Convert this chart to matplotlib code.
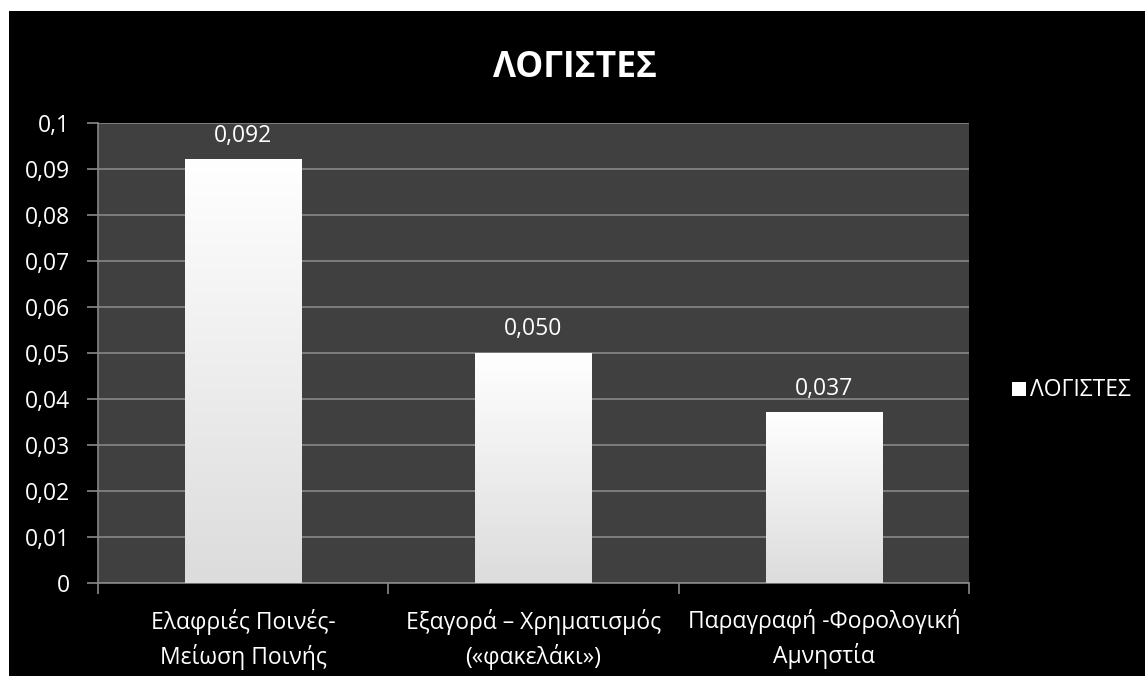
import matplotlib
matplotlib.use("Agg")
import matplotlib.pyplot as plt
import numpy as np
from matplotlib.patches import Rectangle
from matplotlib.colors import LinearSegmentedColormap

categories = ["Ελαφριές Ποινές-\nΜείωση Ποινής", "Εξαγορά – Χρηματισμός\n(«φακελάκι»)", "Παραγραφή -Φορολογική\nΑμνηστία"]
values = [0.092, 0.050, 0.037]
value_labels = ["0,092", "0,050", "0,037"]
yticks = [0, 0.01, 0.02, 0.03, 0.04, 0.05, 0.06, 0.07, 0.08, 0.09, 0.1]
ytick_labels = ["0", "0,01", "0,02", "0,03", "0,04", "0,05", "0,06", "0,07", "0,08", "0,09", "0,1"]
series_name = "ΛΟΓΙΣΤΕΣ"
title = "ΛΟΓΙΣΤΕΣ"

plt.rcParams['font.family'] = ['Open Sans', 'DejaVu Sans']
FS = 16.5

W, H = 1145, 676
fig = plt.figure(figsize=(W/100, H/100), dpi=100, facecolor="white")
fig.patches.append(Rectangle((9/W, 0), 1 - 9/W, 1 - 11/H, transform=fig.transFigure,
                             facecolor="black", edgecolor="none", zorder=-10))

left, right, top, bottom = 98, 969, 123, 583
ax = fig.add_axes([left/W, 1 - bottom/H, (right-left)/W, (bottom-top)/H], zorder=5)
ax.set_facecolor("#404040")

x = np.arange(len(categories))
bars = ax.bar(x, values, width=0.4, color="white", zorder=2)

grad = np.linspace(0, 1, 256).reshape(-1, 1)
cmap = LinearSegmentedColormap.from_list("g", ["#dcdcdc", "#ffffff"])
for b in bars:
    x0, w, h = b.get_x(), b.get_width(), b.get_height()
    ax.imshow(grad, extent=(x0, x0 + w, 0, h), origin="lower", cmap=cmap,
              aspect="auto", zorder=3, interpolation="bilinear")

for xi, v, lab in zip(x, values, value_labels):
    ax.text(xi, v + 0.0039, lab, ha="center", va="baseline", color="white", fontsize=FS, zorder=4)

ax.set_xlim(-0.5, len(categories) - 0.5)
ax.set_ylim(0, 0.1)
ax.set_yticks(yticks)
ax.set_yticklabels(ytick_labels, color="white", fontsize=FS)
ax.yaxis.grid(True, color="#888888", linewidth=1.2, zorder=1)
ax.set_axisbelow(True)

ax.set_xticks(x)
ax.set_xticklabels(categories, color="white", fontsize=FS, linespacing=1.45)
ax.tick_params(axis="x", length=0, pad=19)
ax.set_xticks(np.arange(-0.5, len(categories)), minor=True)
ax.tick_params(axis="x", which="minor", length=8, color="#888888", width=1.2)
ax.tick_params(axis="y", length=8, color="#888888", width=1.2, pad=12)

for s in ["top", "right"]:
    ax.spines[s].set_visible(False)
for s in ["left", "bottom"]:
    ax.spines[s].set_color("#888888")
    ax.spines[s].set_linewidth(1.2)

fig.text(575/W, 1 - 77/H, title, ha="center", va="baseline", color="white",
         fontsize=25.5, fontweight="bold")

fig.patches.append(Rectangle((1012/W, 1 - 396/H), 14/W, 14/H, transform=fig.transFigure,
                             facecolor="white", edgecolor="none", zorder=5))
fig.text(1030/W, 1 - 396/H, series_name, ha="left", va="baseline", color="white", fontsize=FS)

fig.savefig("out.png", dpi=100, facecolor="white")
